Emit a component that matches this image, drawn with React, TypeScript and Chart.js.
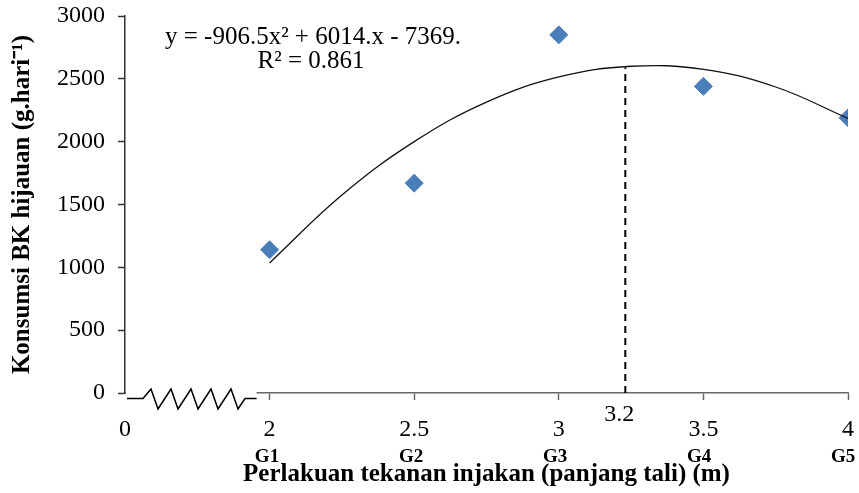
import React, { useEffect, useRef } from 'react';
import { Chart, registerables } from 'chart.js';

Chart.register(...registerables);

const SERIF = "'Liberation Serif', 'Times New Roman', serif";

// Treatments (rope length, m) and group labels
const treatmentX = [2, 2.5, 3, 3.5, 4];
const groupLabels = ['G1', 'G2', 'G3', 'G4', 'G5'];
// Observed forage DM consumption (g/day)
const consumption = [1140, 1670, 2850, 2440, 2190];
// Quadratic trend line
const trendX = [2, 2.25, 2.5, 2.75, 3, 3.25, 3.5, 3.75, 4];
const trendY = [1035, 1575, 2000, 2315, 2515, 2600, 2575, 2435, 2185];
// X-axis ticks (broken axis: first tick stands for 0)
const xTickValues = [1.5, 2, 2.5, 3, 3.5, 4];
const xTickLabels = ['0', '2', '2.5', '3', '3.5', '4'];
// Optimum marker
const optimumX = 3.23;
const optimumY = 2590;
const optimumLabel = '3.2';
const equationText = 'y = -906.5x² + 6014.x - 7369.';
const r2Text = 'R² = 0.861';

const decor = {
  id: 'decor',
  afterDatasetsDraw(chart: any) {
    const { ctx, scales } = chart;
    const xs = scales.x;
    const ys = scales.y;
    const y0 = ys.getPixelForValue(0);
    const px = xs.getPixelForValue(optimumX);
    ctx.save();
    ctx.strokeStyle = '#000';
    ctx.lineWidth = 2;
    ctx.setLineDash([7, 5]);
    ctx.beginPath();
    ctx.moveTo(px, y0);
    ctx.lineTo(px, ys.getPixelForValue(optimumY));
    ctx.stroke();
    ctx.restore();
  },
  afterDraw(chart: any) {
    const { ctx, scales, chartArea } = chart;
    const xs = scales.x;
    const ys = scales.y;
    const y0 = ys.getPixelForValue(0);
    const left = chartArea.left;
    const breakEnd = xs.getPixelForValue(2) - 13;
    ctx.save();
    // hide axis segment in the break
    ctx.fillStyle = '#fff';
    ctx.fillRect(left + 1, y0 - 3, breakEnd - left - 1, 6);
    // zigzag
    ctx.strokeStyle = '#000';
    ctx.lineWidth = 1.5;
    ctx.beginPath();
    ctx.moveTo(left + 2, y0 + 5.5);
    ctx.lineTo(left + 18, y0 + 5.5);
    for (let i = 0; i < 5; i++) {
      ctx.lineTo(left + 26 + 20 * i, y0 - 4);
      ctx.lineTo(left + 33 + 20 * i, y0 + 16);
    }
    ctx.lineTo(left + 120, y0 + 5.5);
    ctx.lineTo(breakEnd, y0 + 5.5);
    ctx.stroke();

    // optimum label
    ctx.fillStyle = '#000';
    ctx.font = `24px ${SERIF}`;
    ctx.textAlign = 'center';
    ctx.textBaseline = 'middle';
    ctx.fillText(optimumLabel, xs.getPixelForValue(optimumX) - 6, y0 + 22);

    // equation
    ctx.font = `25px ${SERIF}`;
    ctx.fillText(equationText, left + 188, chartArea.top + 21);
    ctx.fillText(r2Text, left + 186, chartArea.top + 45);
    ctx.restore();
  },
};

export default function App() {
  const ref = useRef<HTMLCanvasElement | null>(null);

  useEffect(() => {
    document.body.style.margin = '0';
    const canvas = ref.current;
    if (!canvas) return;
    const chart = new Chart(canvas, {
      type: 'scatter',
      data: {
        datasets: [
          {
            label: 'Trend',
            data: trendX.map((x, i) => ({ x, y: trendY[i] })),
            showLine: true,
            borderColor: '#111',
            borderWidth: 1.3,
            pointRadius: 0,
            tension: 0.4,
            fill: false,
          },
          {
            label: 'Konsumsi',
            data: treatmentX.map((x, i) => ({ x, y: consumption[i] })),
            pointStyle: 'rectRot',
            pointRadius: 9,
            backgroundColor: '#4a7ebb',
            borderColor: '#4a7ebb',
            borderWidth: 1,
          },
        ],
      },
      options: {
        responsive: false,
        animation: false,
        devicePixelRatio: 1,
        layout: { padding: { top: 16, right: 11, left: 0, bottom: 0 } },
        plugins: { legend: { display: false }, tooltip: { enabled: false } },
        scales: {
          x: {
            type: 'linear',
            min: 1.5,
            max: 4,
            position: 'bottom',
            weight: 0,
            afterBuildTicks: (s: any) => {
              s.ticks = xTickValues.map((v) => ({ value: v }));
            },
            ticks: {
              color: '#000',
              font: { family: SERIF, size: 24 },
              padding: 15,
              maxRotation: 0,
              autoSkip: false,
              callback: (_v: any, i: number) => xTickLabels[i],
            },
            grid: {
              drawOnChartArea: false,
              drawTicks: true,
              tickLength: 7,
              color: '#666',
              tickColor: (c: any) => (c.tick && c.tick.value === 1.5 ? 'rgba(0,0,0,0)' : '#666'),
              tickWidth: 1.5,
            },
            border: { color: '#666', width: 1.5 },
            afterFit: (s: any) => {
              s.height = 52;
              s.paddingLeft = 0;
              s.paddingRight = 0;
            },
          },
          x2: {
            type: 'linear',
            min: 1.507,
            max: 4.017,
            position: 'bottom',
            weight: 1,
            afterBuildTicks: (s: any) => {
              s.ticks = treatmentX.map((v) => ({ value: v }));
            },
            ticks: {
              color: '#000',
              font: { family: SERIF, size: 19, weight: 'bold' },
              padding: 1,
              maxRotation: 0,
              autoSkip: false,
              callback: (_v: any, i: number) => groupLabels[i],
            },
            grid: { display: false, drawTicks: false, drawOnChartArea: false },
            border: { display: false },
            title: {
              display: true,
              text: 'Perlakuan tekanan injakan (panjang tali) (m)',
              color: '#000',
              font: { family: SERIF, size: 25, weight: 'bold' },
              padding: { top: 0, bottom: 3 },
            },
            afterFit: (s: any) => {
              s.height = 48;
              s.paddingLeft = 0;
              s.paddingRight = 0;
            },
          },
          y: {
            min: 0,
            max: 3000,
            ticks: {
              stepSize: 500,
              color: '#000',
              font: { family: SERIF, size: 24 },
              padding: 13,
              callback: (v: any) => String(v),
            },
            grid: {
              drawOnChartArea: false,
              drawTicks: true,
              tickLength: 7,
              color: '#333',
              tickWidth: 1.5,
            },
            border: { color: '#333', width: 1.5 },
            title: {
              display: true,
              text: 'Konsumsi BK hijauan (g.hari⁻¹)',
              color: '#000',
              font: { family: SERIF, size: 25, weight: 'bold' },
              padding: { top: 8, bottom: 0 },
            },
            afterFit: (s: any) => {
              s.width = 125;
              s.paddingTop = 0;
              s.paddingBottom = 0;
            },
          },
        },
      },
      plugins: [decor],
    } as any);
    return () => chart.destroy();
  }, []);

  return (
    <div>
      <canvas ref={ref} width={859} height={493} style={{ display: 'block' }} />
    </div>
  );
}
